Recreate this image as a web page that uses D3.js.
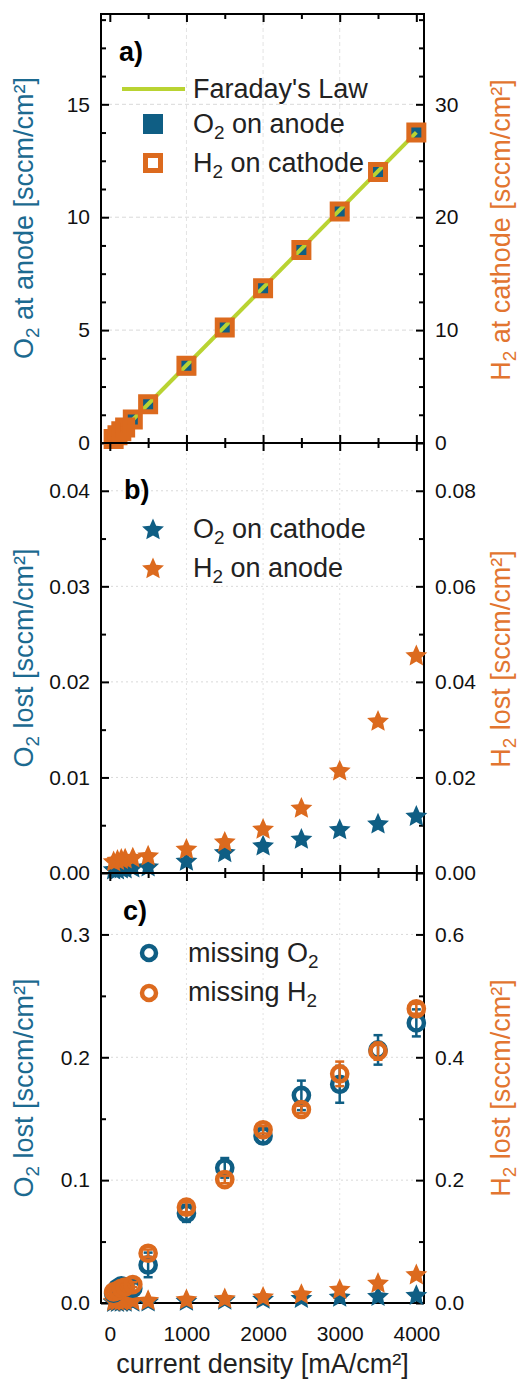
<!DOCTYPE html>
<html>
<head>
<meta charset="utf-8">
<script src="https://cdn.jsdelivr.net/npm/d3@7"></script>
<style>
  body { margin: 0; background: #fff; }
  svg text { font-family: "Liberation Sans", Arial, sans-serif; }
</style>
</head>
<body>
<svg id="viz" width="522" height="1381"></svg>
<script>
// DATA
var currentDensity = [50, 100, 150, 200, 300, 500, 1000, 1500, 2000, 2500, 3000, 3500, 4000];
var xTicks = [0, 1000, 2000, 3000, 4000];

// a) measured production
var o2Anode   = [0.17, 0.34, 0.52, 0.69, 1.05, 1.72, 3.40, 5.10, 6.83, 8.56, 10.25, 12.0, 13.74];
var h2Cathode = [0.35, 0.69, 1.04, 1.38, 2.08, 3.44, 6.84, 10.24, 13.7, 17.1, 20.5, 24.0, 27.5];
var faradayX  = [0, 4000];
var faradayO2 = [0, 13.76];

// b) crossover
var o2Cathode = [0.0003, 0.0003, 0.0004, 0.0004, 0.0005, 0.0006, 0.0012, 0.0021, 0.0028, 0.0035, 0.0045, 0.0051, 0.0059];
var h2Anode   = [0.0023, 0.0026, 0.0028, 0.0029, 0.0031, 0.0035, 0.0049, 0.0064, 0.0091, 0.0135, 0.0213, 0.0317, 0.0454];

// c) missing gas
var missingO2 = [0.008, 0.012, 0.014, 0.013, 0.012, 0.031, 0.073, 0.110, 0.136, 0.169, 0.178, 0.206, 0.228];
var errO2     = [0.003, 0.004, 0.004, 0.004, 0.004, 0.010, 0.007, 0.008, 0.006, 0.012, 0.015, 0.012, 0.011];
var missingH2 = [0.018, 0.020, 0.024, 0.026, 0.030, 0.081, 0.156, 0.201, 0.282, 0.315, 0.373, 0.410, 0.479];
var errH2     = [0.004, 0.004, 0.004, 0.004, 0.004, 0.006, 0.008, 0.006, 0.006, 0.006, 0.020, 0.014, 0.008];

var BLUE = "#0f5e84", ORANGE = "#dc6a1e", LIME = "#b9d332";
var BLUE_TXT = "#1c6a90", ORANGE_TXT = "#e27530";

var svg = d3.select("#viz");
var left = 101, right = 424;
var x = d3.scaleLinear().domain([-115, 4100]).range([left, right]);

// star with fat arms, like the Origin one
var fatStar = {
    draw: function (ctx, size) {
        var R = Math.sqrt(size), r = R * 0.47;
        for (var i = 0; i < 10; i++) {
            var a = -Math.PI / 2 + i * Math.PI / 5, rr = i % 2 ? r : R;
            if (i === 0) ctx.moveTo(rr * Math.cos(a), rr * Math.sin(a));
            else ctx.lineTo(rr * Math.cos(a), rr * Math.sin(a));
        }
        ctx.closePath();
    }
};

function zip(xs, ys) { return xs.map(function (v, i) { return { x: v, y: ys[i], i: i }; }); }

// text with subscripts; parts = [[text, isSub], ...]
function richText(sel, parts) {
    parts.forEach(function (p) {
        var t = sel.append("tspan").text(p[0]);
        if (p[1]) t.attr("font-size", "0.7em").attr("dy", "0.3em");
        else if (sel.selectAll("tspan").size() > 1) t.attr("dy", "-0.21em");
    });
    return sel;
}

function panel(cfg) {
    var g = svg.append("g");
    var yL = d3.scaleLinear().domain(cfg.leftDomain).range([cfg.bottom, cfg.top]);
    var yR = d3.scaleLinear().domain(cfg.rightDomain).range([cfg.bottom, cfg.top]);

    // grid
    g.append("g").selectAll("line").data(cfg.leftTicks.slice(1)).enter().append("line")
        .attr("x1", left).attr("x2", right)
        .attr("y1", function (d) { return yL(d); }).attr("y2", function (d) { return yL(d); })
        .attr("stroke", "#d9d9d9").attr("stroke-dasharray", cfg.dash).attr("stroke-width", 1);
    g.append("g").selectAll("line").data([1000, 2000, 3000]).enter().append("line")
        .attr("y1", cfg.top).attr("y2", cfg.bottom)
        .attr("x1", function (d) { return x(d); }).attr("x2", function (d) { return x(d); })
        .attr("stroke", "#e3e3e3").attr("stroke-dasharray", cfg.dash).attr("stroke-width", 1);

    // axes (all ticks inward)
    function ax(axis, tf, cls) {
        var a = g.append("g").attr("class", cls).attr("transform", tf).call(axis);
        a.select(".domain").remove();
        a.selectAll("line").attr("stroke", "#000").attr("stroke-width", 2);
        a.selectAll("text").attr("font-size", 21).attr("fill", "#111");
        return a;
    }
    var xMinor = [500, 1500, 2500, 3500];
    ax(d3.axisBottom(x).tickValues(xTicks).tickSize(-8).tickPadding(23).tickFormat(cfg.xLabels ? d3.format("d") : ""),
        "translate(0," + cfg.bottom + ")", "x axis");
    ax(d3.axisBottom(x).tickValues(xMinor).tickSize(-5).tickFormat(""), "translate(0," + cfg.bottom + ")", "x minor");
    ax(d3.axisTop(x).tickValues(xTicks).tickSize(-8).tickFormat(""), "translate(0," + cfg.top + ")", "x top");
    ax(d3.axisTop(x).tickValues(xMinor).tickSize(-5).tickFormat(""), "translate(0," + cfg.top + ")", "x top minor");

    ax(d3.axisLeft(yL).tickValues(cfg.leftTicks).tickSize(-8).tickPadding(11).tickFormat(d3.format(cfg.fmtL)),
        "translate(" + left + ",0)", "y axis");
    ax(d3.axisLeft(yL).tickValues(cfg.leftMinor).tickSize(-5).tickFormat(""), "translate(" + left + ",0)", "y minor");
    ax(d3.axisRight(yR).tickValues(cfg.rightTicks).tickSize(-8).tickPadding(11).tickFormat(d3.format(cfg.fmtR)),
        "translate(" + right + ",0)", "y2 axis");
    ax(d3.axisRight(yL).tickValues(cfg.leftMinor).tickSize(-5).tickFormat(""), "translate(" + right + ",0)", "y2 minor");

    // frame
    g.append("rect").attr("x", left).attr("y", cfg.top)
        .attr("width", right - left).attr("height", cfg.bottom - cfg.top)
        .attr("fill", "none").attr("stroke", "#000").attr("stroke-width", 2);

    // panel label
    g.append("text").attr("x", cfg.labelX).attr("y", cfg.labelY)
        .attr("font-size", 27).attr("font-weight", "bold").text(cfg.label);

    // axis titles
    richText(g.append("text")
        .attr("transform", "translate(33," + cfg.titleLY + ") rotate(-90)")
        .attr("text-anchor", "middle").attr("font-size", 27).attr("fill", BLUE_TXT), cfg.titleL);
    richText(g.append("text")
        .attr("transform", "translate(510," + cfg.titleRY + ") rotate(-90)")
        .attr("text-anchor", "middle").attr("font-size", 27).attr("fill", ORANGE_TXT), cfg.titleR);

    return { g: g, yL: yL, yR: yR };
}

function legendText(g, lx, ly, parts) {
    richText(g.append("text").attr("x", lx).attr("y", ly).attr("font-size", 27).attr("fill", "#222"), parts);
}

// ---------- a)
var pa = panel({
    top: 14, bottom: 443, leftDomain: [0, 19], rightDomain: [0, 38],
    leftTicks: [0, 5, 10, 15], leftMinor: [1.25, 2.5, 3.75, 6.25, 7.5, 8.75, 11.25, 12.5, 13.75, 16.25, 17.5, 18.75],
    rightTicks: [0, 10, 20, 30], fmtL: "d", fmtR: "d", dash: "4,3",
    label: "a)", labelX: 119, labelY: 61,
    titleL: [["O", 0], ["2", 1], [" at anode [sccm/cm\u00b2]", 0]], titleLY: 218,
    titleR: [["H", 0], ["2", 1], [" at cathode [sccm/cm\u00b2]", 0]], titleRY: 230
});
var sqBlue = d3.symbol(d3.symbolSquare, 18 * 18), sqOrange = d3.symbol(d3.symbolSquare, 15 * 15);
pa.g.append("g").selectAll("path").data(zip(currentDensity, o2Anode)).enter().append("path")
    .attr("d", sqBlue).attr("fill", BLUE)
    .attr("transform", function (d) { return "translate(" + x(d.x) + "," + pa.yL(d.y) + ")"; });
var line = d3.line().x(function (d) { return x(d.x); }).y(function (d) { return pa.yL(d.y); });
pa.g.append("path").datum(zip(faradayX, faradayO2)).attr("d", line)
    .attr("fill", "none").attr("stroke", LIME).attr("stroke-width", 4);
pa.g.append("g").selectAll("path").data(zip(currentDensity, h2Cathode)).enter().append("path")
    .attr("d", sqOrange).attr("fill", "none").attr("stroke", ORANGE).attr("stroke-width", 5)
    .attr("transform", function (d) { return "translate(" + x(d.x) + "," + pa.yR(d.y) + ")"; });
// legend a
pa.g.append("line").attr("x1", 122).attr("x2", 185).attr("y1", 89).attr("y2", 89)
    .attr("stroke", LIME).attr("stroke-width", 4);
legendText(pa.g, 193, 98, [["Faraday's Law", 0]]);
pa.g.append("path").attr("d", d3.symbol(d3.symbolSquare, 20 * 20)).attr("fill", BLUE)
    .attr("transform", "translate(153,124)");
legendText(pa.g, 193, 133, [["O", 0], ["2", 1], [" on anode", 0]]);
pa.g.append("path").attr("d", sqOrange).attr("fill", "#fff").attr("stroke", ORANGE).attr("stroke-width", 5)
    .attr("transform", "translate(153,163)");
legendText(pa.g, 193, 172, [["H", 0], ["2", 1], [" on cathode", 0]]);

// ---------- b)
var pb = panel({
    top: 443, bottom: 873, leftDomain: [0, 0.045], rightDomain: [0, 0.09],
    leftTicks: [0, 0.01, 0.02, 0.03, 0.04], leftMinor: [0.005, 0.015, 0.025, 0.035],
    rightTicks: [0, 0.02, 0.04, 0.06, 0.08], fmtL: ".2f", fmtR: ".2f", dash: "2,3",
    label: "b)", labelX: 124, labelY: 499,
    titleL: [["O", 0], ["2", 1], [" lost [sccm/cm\u00b2]", 0]], titleLY: 658,
    titleR: [["H", 0], ["2", 1], [" lost [sccm/cm\u00b2]", 0]], titleRY: 659
});
var star = d3.symbol(fatStar, 11.5 * 11.5);
function stars(p, xs, ys, scale, color) {
    p.g.append("g").selectAll("path").data(zip(xs, ys)).enter().append("path")
        .attr("d", star).attr("fill", color)
        .attr("transform", function (d) { return "translate(" + x(d.x) + "," + scale(d.y) + ")"; });
}
stars(pb, currentDensity, o2Cathode, pb.yL, BLUE);
stars(pb, currentDensity, h2Anode, pb.yR, ORANGE);
pb.g.append("path").attr("d", star).attr("fill", BLUE).attr("transform", "translate(153,530)");
legendText(pb.g, 193, 538, [["O", 0], ["2", 1], [" on cathode", 0]]);
pb.g.append("path").attr("d", star).attr("fill", ORANGE).attr("transform", "translate(153,569)");
legendText(pb.g, 193, 577, [["H", 0], ["2", 1], [" on anode", 0]]);

// ---------- c)
var pc = panel({
    top: 873, bottom: 1303, leftDomain: [0, 0.35], rightDomain: [0, 0.7],
    leftTicks: [0, 0.1, 0.2, 0.3], leftMinor: [0.05, 0.15, 0.25],
    rightTicks: [0, 0.2, 0.4, 0.6], fmtL: ".1f", fmtR: ".1f", dash: "2,3",
    label: "c)", labelX: 123, labelY: 920, xLabels: true,
    titleL: [["O", 0], ["2", 1], [" lost [sccm/cm\u00b2]", 0]], titleLY: 1088,
    titleR: [["H", 0], ["2", 1], [" lost [sccm/cm\u00b2]", 0]], titleRY: 1088
});
stars(pc, currentDensity, o2Cathode, pc.yL, BLUE);
stars(pc, currentDensity, h2Anode, pc.yR, ORANGE);

function circles(p, xs, ys, errs, scale, color) {
    var data = zip(xs, ys);
    var eg = p.g.append("g").attr("stroke", color).attr("stroke-width", 2.5);
    eg.selectAll("line.bar").data(data).enter().append("line").attr("class", "bar")
        .attr("x1", function (d) { return x(d.x); }).attr("x2", function (d) { return x(d.x); })
        .attr("y1", function (d) { return scale(d.y - errs[d.i]); })
        .attr("y2", function (d) { return scale(d.y + errs[d.i]); });
    [-1, 1].forEach(function (s) {
        eg.selectAll("line.cap" + (s + 1)).data(data).enter().append("line").attr("class", "cap" + (s + 1))
            .attr("x1", function (d) { return x(d.x) - 4.5; }).attr("x2", function (d) { return x(d.x) + 4.5; })
            .attr("y1", function (d) { return scale(d.y + s * errs[d.i]); })
            .attr("y2", function (d) { return scale(d.y + s * errs[d.i]); });
    });
    p.g.append("g").selectAll("circle").data(data).enter().append("circle")
        .attr("cx", function (d) { return x(d.x); }).attr("cy", function (d) { return scale(d.y); })
        .attr("r", 7.6).attr("fill", "none").attr("stroke", color).attr("stroke-width", 4.5);
}
circles(pc, currentDensity, missingO2, errO2, pc.yL, BLUE);
circles(pc, currentDensity, missingH2, errH2, pc.yR, ORANGE);
pc.g.append("circle").attr("cx", 149).attr("cy", 953).attr("r", 7).attr("fill", "none")
    .attr("stroke", BLUE).attr("stroke-width", 4.5);
legendText(pc.g, 188, 962, [["missing O", 0], ["2", 1]]);
pc.g.append("circle").attr("cx", 149).attr("cy", 993).attr("r", 7).attr("fill", "none")
    .attr("stroke", ORANGE).attr("stroke-width", 4.5);
legendText(pc.g, 188, 1001, [["missing H", 0], ["2", 1]]);

// x title
svg.append("text").attr("x", (left + right) / 2).attr("y", 1373).attr("text-anchor", "middle")
    .attr("font-size", 27).attr("fill", "#222").text("current density [mA/cm\u00b2]");
</script>
</body>
</html>
